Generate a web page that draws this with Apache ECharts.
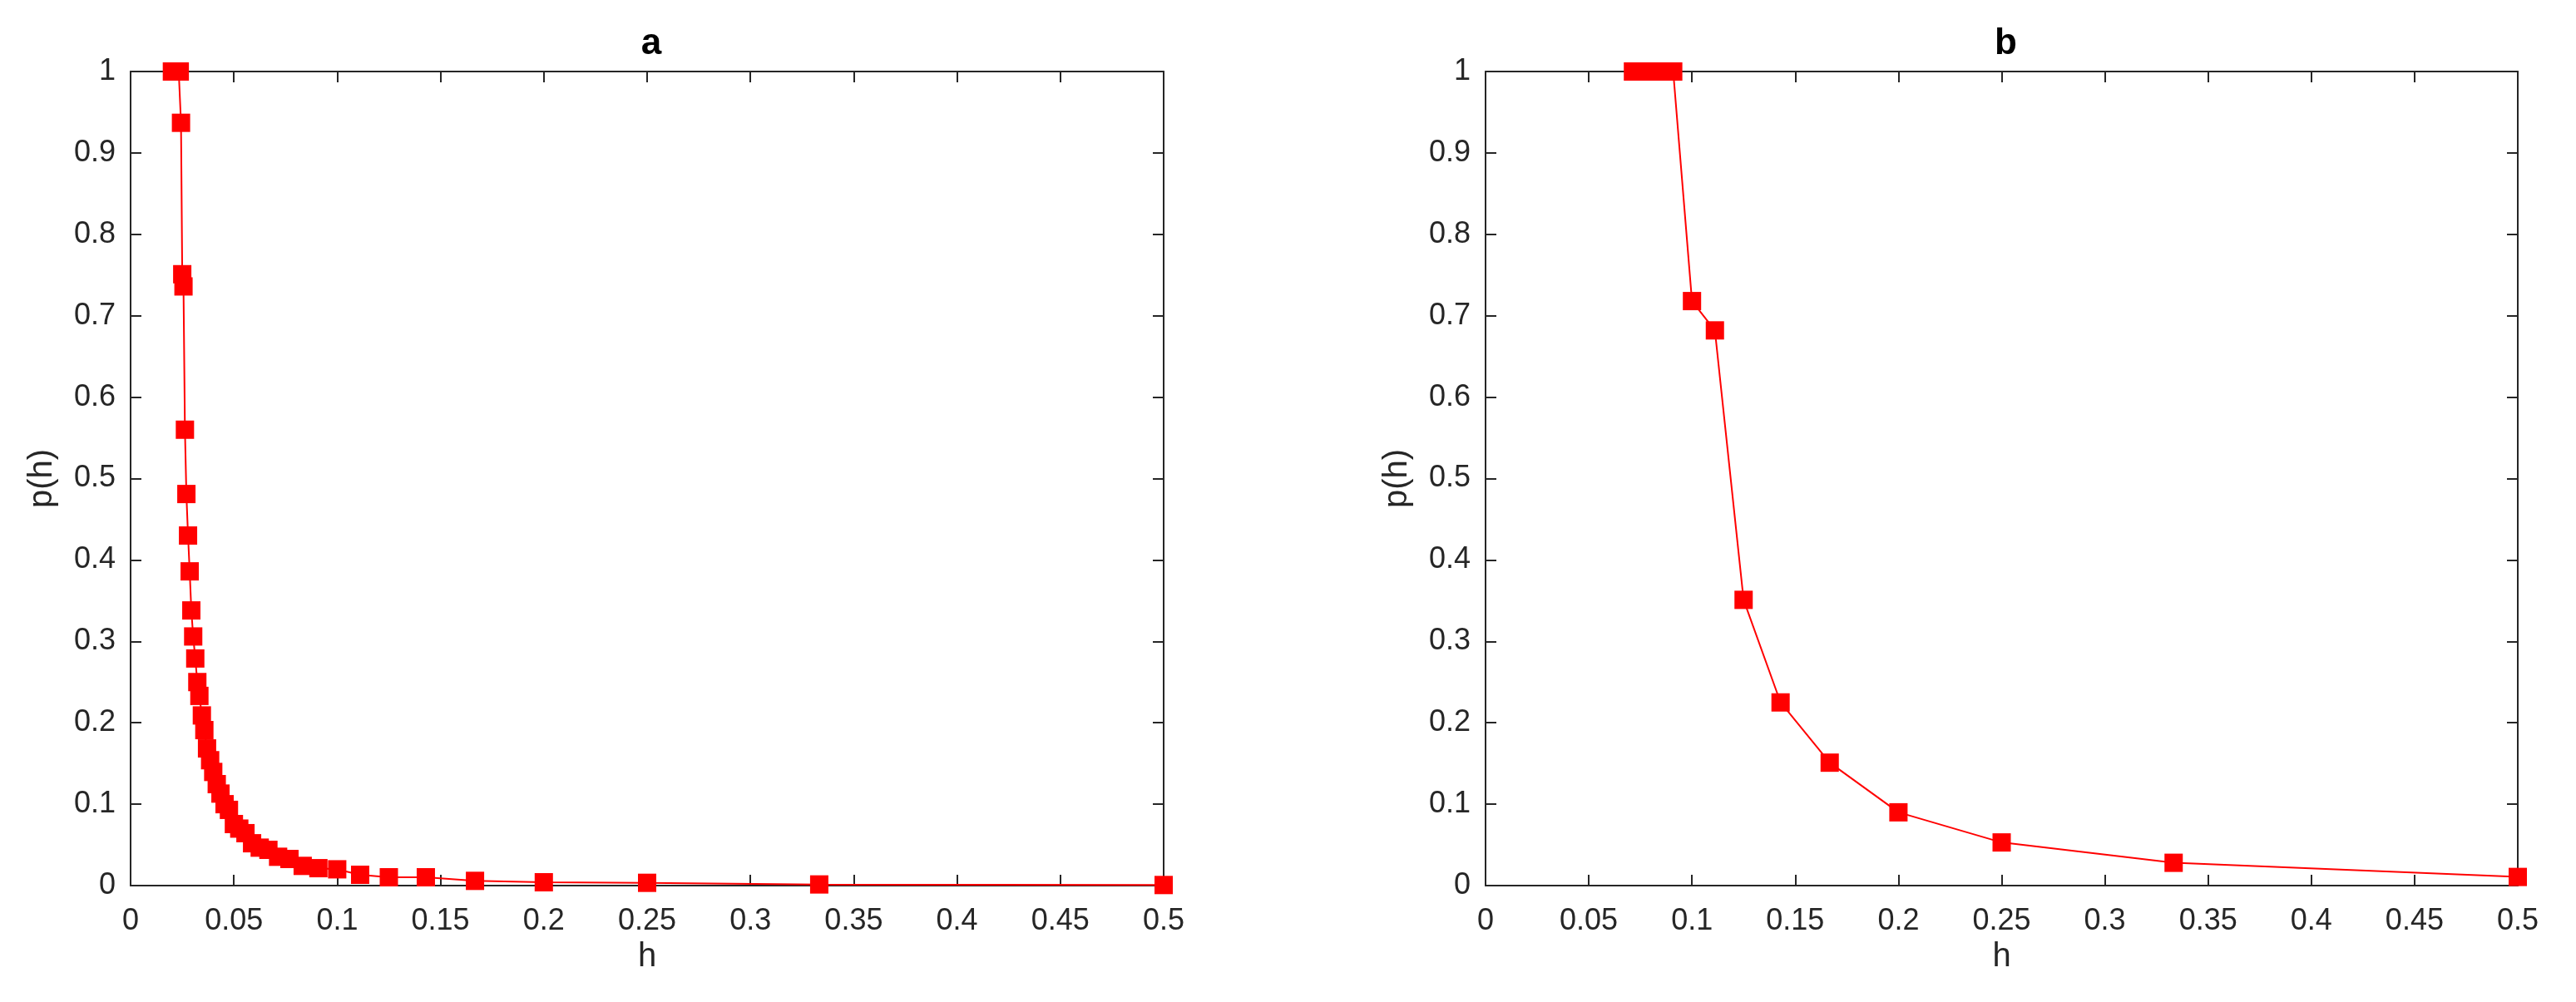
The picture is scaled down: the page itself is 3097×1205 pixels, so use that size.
<!DOCTYPE html>
<html>
<head>
<meta charset="utf-8">
<script src="https://cdn.jsdelivr.net/npm/echarts@6/dist/echarts.min.js"></script>
<style>
  html, body { margin: 0; padding: 0; background: #fff; }
  #chart { width: 3097px; height: 1205px; }
</style>
</head>
<body>
<div id="chart"></div>
<script>
  // panel a: h = 1/n for n = 50 .. 2
  const hA = [0.0200, 0.0204, 0.0208, 0.0213, 0.0217, 0.0222, 0.0227, 0.0233, 0.0238,
    0.0244, 0.0250, 0.0256, 0.0263, 0.0270, 0.0278, 0.0286, 0.0294, 0.0303, 0.0313,
    0.0323, 0.0333, 0.0345, 0.0357, 0.0370, 0.0385, 0.0400, 0.0417, 0.0435, 0.0455,
    0.0476, 0.0500, 0.0526, 0.0556, 0.0588, 0.0625, 0.0667, 0.0714, 0.0769, 0.0833,
    0.0909, 0.1000, 0.1111, 0.1250, 0.1429, 0.1667, 0.2000, 0.2500, 0.3333, 0.5000]
  const pA = [1, 1, 1, 1, 1, 1, 1, 1, 1,
    0.937, 0.751, 0.736, 0.560, 0.481, 0.430, 0.386, 0.338, 0.306, 0.279,
    0.250, 0.233, 0.209, 0.191, 0.1685, 0.154, 0.1396, 0.1246, 0.113, 0.100,
    0.093, 0.0756, 0.070, 0.0644, 0.052, 0.0466, 0.0439, 0.0354, 0.0327, 0.0242,
    0.0214, 0.020, 0.0133, 0.0102, 0.0102, 0.0058, 0.0041, 0.0034, 0.0014, 0.0007]

  // panel b: h = 1/n for n = 14 .. 2
  const hB = [0.0714, 0.0769, 0.0833, 0.0909, 0.1000, 0.1111, 0.1250, 0.1429, 0.1667, 0.2000, 0.2500, 0.3333, 0.5000]
  const pB = [1, 1, 1, 1, 0.718, 0.682, 0.351, 0.225, 0.151, 0.090, 0.053, 0.028, 0.0106]

  const titles = ['a', 'b']
  const xName = 'h'
  const yName = 'p(h)'

  const axisColor = '#262626'
  const red = '#ff0000'
  const font = 'Liberation Sans, Arial, sans-serif'

  const grids = [
    {left: 157, top: 86, width: 1242, height: 979},
    {left: 1786, top: 86, width: 1241, height: 979}
  ]

  function fmt (v) {
    return String(+v.toFixed(2))
  }

  const tick = {show: true, inside: true, length: 13, lineStyle: {color: axisColor, width: 2}}
  const line = {show: true, onZero: false, lineStyle: {color: axisColor, width: 2}}

  const xAxis = []
  const yAxis = []
  grids.forEach((g, i) => {
    xAxis.push({
      type: 'value', gridIndex: i, position: 'bottom', min: 0, max: 0.5, interval: 0.05,
      name: xName, nameLocation: 'middle', nameGap: 64,
      nameTextStyle: {fontFamily: font, fontSize: 40, color: axisColor},
      axisLine: line, axisTick: tick, splitLine: {show: false},
      axisLabel: {fontFamily: font, fontSize: 36, color: axisColor, margin: 25, formatter: fmt}
    })
    xAxis.push({
      type: 'value', gridIndex: i, position: 'top', min: 0, max: 0.5, interval: 0.05,
      axisLine: line, axisTick: tick, splitLine: {show: false}, axisLabel: {show: false}
    })
    yAxis.push({
      type: 'value', gridIndex: i, position: 'left', min: 0, max: 1, interval: 0.1,
      name: yName, nameLocation: 'middle', nameGap: 86,
      nameTextStyle: {fontFamily: font, fontSize: 40, color: axisColor},
      axisLine: line, axisTick: tick, splitLine: {show: false},
      axisLabel: {fontFamily: font, fontSize: 36, color: axisColor, margin: 18, formatter: fmt}
    })
    yAxis.push({
      type: 'value', gridIndex: i, position: 'right', min: 0, max: 1, interval: 0.1,
      axisLine: line, axisTick: tick, splitLine: {show: false}, axisLabel: {show: false}
    })
  })

  const series = [[hA, pA], [hB, pB]].map((d, i) => ({
    type: 'line',
    xAxisIndex: i * 2,
    yAxisIndex: i * 2,
    data: d[0].map((h, k) => [h, d[1][k]]),
    symbol: 'rect',
    symbolSize: 22,
    showAllSymbol: true,
    clip: false,
    itemStyle: {color: red},
    lineStyle: {color: red, width: 2},
    silent: true,
    animation: false
  }))

  const chart = echarts.init(document.getElementById('chart'))
  chart.setOption({
    backgroundColor: '#fff',
    animation: false,
    title: titles.map((t, i) => ({
      text: t,
      left: grids[i].left + grids[i].width / 2,
      top: 26,
      textAlign: 'center',
      textStyle: {fontFamily: font, fontSize: 44, fontWeight: 'bold', color: '#000'}
    })),
    grid: grids,
    xAxis,
    yAxis,
    series
  })
</script>
</body>
</html>
